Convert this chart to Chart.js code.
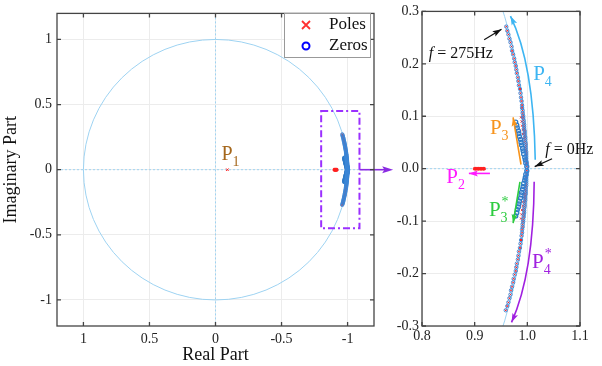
<!DOCTYPE html>
<html>
<head>
<meta charset="utf-8">
<script src="https://cdn.jsdelivr.net/npm/chart.js@4.4.0/dist/chart.umd.min.js"></script>
<style>
html, body { margin: 0; padding: 0; background: #fff; }
#wrap { position: relative; width: 602px; height: 366px; overflow: hidden; }
#left { position: absolute; left: 0; top: 0; z-index: 2; }
#right { position: absolute; left: 395px; top: 0; z-index: 1; }
</style>
</head>
<body>
<div id="wrap">
  <canvas id="right" width="207" height="366"></canvas>
  <canvas id="left" width="400" height="366"></canvas>
</div>
<script>
// values (x = distance along the flipped real axis)
var trackUpX = [0.960, 0.962, 0.964, 0.966, 0.968, 0.970, 0.971, 0.973, 0.975, 0.976, 0.978, 0.979, 0.980, 0.982, 0.983, 0.984, 0.986, 0.987, 0.988, 0.989, 0.990, 0.990, 0.991, 0.991, 0.992, 0.992, 0.993, 0.993, 0.994, 0.994, 0.994, 0.995, 0.995, 0.995, 0.996, 0.996, 0.996, 0.997, 0.997, 0.997, 0.997, 0.998, 0.998, 0.998, 0.998, 0.998, 0.999, 0.999, 0.999];
var trackUpY = [0.271, 0.263, 0.256, 0.248, 0.241, 0.233, 0.225, 0.218, 0.210, 0.203, 0.196, 0.189, 0.182, 0.174, 0.167, 0.159, 0.152, 0.144, 0.136, 0.129, 0.121, 0.116, 0.111, 0.106, 0.101, 0.097, 0.092, 0.088, 0.084, 0.080, 0.076, 0.072, 0.068, 0.064, 0.060, 0.056, 0.052, 0.048, 0.044, 0.040, 0.036, 0.032, 0.028, 0.024, 0.020, 0.016, 0.012, 0.008, 0.004];
var trackLoX = [0.959, 0.962, 0.964, 0.966, 0.968, 0.969, 0.971, 0.973, 0.974, 0.976, 0.978, 0.979, 0.980, 0.982, 0.983, 0.984, 0.986, 0.987, 0.988, 0.989, 0.990, 0.990, 0.991, 0.991, 0.992, 0.992, 0.993, 0.993, 0.994, 0.994, 0.994, 0.995, 0.995, 0.995, 0.996, 0.996, 0.996, 0.997, 0.997, 0.997, 0.997, 0.998, 0.998, 0.998, 0.998, 0.998, 0.999, 0.999, 0.999];
var trackLoY = [-0.270, -0.262, -0.255, -0.247, -0.240, -0.232, -0.225, -0.217, -0.210, -0.202, -0.195, -0.188, -0.181, -0.173, -0.166, -0.158, -0.151, -0.143, -0.136, -0.128, -0.122, -0.116, -0.111, -0.106, -0.101, -0.097, -0.092, -0.088, -0.084, -0.080, -0.076, -0.072, -0.068, -0.064, -0.060, -0.056, -0.052, -0.048, -0.044, -0.040, -0.036, -0.032, -0.028, -0.024, -0.020, -0.016, -0.012, -0.008, -0.004];

var p3ZeroUpX = [0.978, 0.980, 0.981, 0.983, 0.984, 0.985, 0.987, 0.988, 0.989, 0.991, 0.992, 0.993, 0.995, 0.996, 0.997, 0.999];
var p3ZeroUpY = [0.089, 0.083, 0.078, 0.072, 0.067, 0.061, 0.056, 0.050, 0.045, 0.039, 0.034, 0.028, 0.022, 0.017, 0.011, 0.004];
var p3ZeroLoX = [0.978, 0.980, 0.981, 0.983, 0.984, 0.985, 0.987, 0.988, 0.989, 0.991, 0.992, 0.993, 0.995, 0.996, 0.997, 0.999];
var p3ZeroLoY = [-0.090, -0.084, -0.078, -0.073, -0.067, -0.062, -0.056, -0.050, -0.045, -0.039, -0.034, -0.028, -0.022, -0.017, -0.011, -0.004];

var p3PoleUpX = [0.988, 0.989, 0.990, 0.991, 0.992, 0.993, 0.994, 0.995, 0.996, 0.997, 0.998, 0.999];
var p3PoleUpY = [0.098, 0.090, 0.082, 0.074, 0.066, 0.058, 0.050, 0.042, 0.034, 0.026, 0.018, 0.010];
var p3PoleLoX = [0.988, 0.989, 0.990, 0.991, 0.992, 0.993, 0.994, 0.995, 0.996, 0.997, 0.998, 0.999];
var p3PoleLoY = [-0.095, -0.087, -0.079, -0.071, -0.063, -0.055, -0.048, -0.040, -0.032, -0.024, -0.016, -0.009];

var p2PoleX = [0.900, 0.903, 0.906, 0.909, 0.912, 0.915, 0.918];
var p2PoleY = [0, 0, 0, 0, 0, 0, 0];
var p1PoleX = [0.09];
var p1PoleY = [0];

var leftTicks = [-1, -0.5, 0, 0.5, 1];
var rightXTicks = [0.8, 0.9, 1.0, 1.1];
var rightYTicks = [-0.3, -0.2, -0.1, 0.0, 0.1, 0.2, 0.3];

var serif = "'Liberation Serif', 'Times New Roman', serif";
Chart.defaults.font.family = serif;
Chart.defaults.color = '#222';

function pts(xs, ys, flip) {
  return xs.map(function (x, i) { return { x: flip ? -x : x, y: ys[i] }; });
}

var zeroCol = '#3a86d6';
var poleCol = '#ff2020';

function buildSets(flip) {
  var zeros = pts(trackUpX, trackUpY, flip).concat(pts(trackLoX, trackLoY, flip));
  var p3z = pts(p3ZeroUpX, p3ZeroUpY, flip).concat(pts(p3ZeroLoX, p3ZeroLoY, flip));
  var poles = pts(trackUpX, trackUpY, flip).concat(pts(trackLoX, trackLoY, flip));
  var p3p = pts(p3PoleUpX, p3PoleUpY, flip).concat(pts(p3PoleLoX, p3PoleLoY, flip));
  var p2 = pts(p2PoleX, p2PoleY, flip);
  var p1 = pts(p1PoleX, p1PoleY, flip);
  var zs = { pointStyle: 'circle', pointRadius: 1.7, borderColor: zeroCol, backgroundColor: 'rgba(0,0,0,0)', pointBorderWidth: 0.9 };
  var ps = { pointStyle: 'crossRot', pointRadius: 1.4, borderColor: poleCol, backgroundColor: poleCol, pointBorderWidth: 1 };
  return [
    Object.assign({ label: 'Zeros', data: zeros }, zs),
    Object.assign({ label: 'Zeros P3', data: p3z }, zs, { pointRadius: 2, pointBorderWidth: 1.3, borderColor: '#2f7bc8' }),
    Object.assign({ label: 'Poles', data: poles }, ps),
    Object.assign({ label: 'Poles P3', data: p3p }, ps),
    Object.assign({ label: 'Poles P2', data: p2 }, ps, { pointRadius: 1.8, pointBorderWidth: 2 }),
    Object.assign({ label: 'Poles P1', data: p1 }, ps, { pointRadius: 1.8 })
  ];
}

function arrowHead(ctx, x, y, ang, len, wid, color) {
  ctx.save();
  ctx.translate(x, y);
  ctx.rotate(ang);
  ctx.fillStyle = color;
  ctx.beginPath();
  ctx.moveTo(0, 0);
  ctx.lineTo(-len, wid / 2);
  ctx.lineTo(-len * 0.8, 0);
  ctx.lineTo(-len, -wid / 2);
  ctx.closePath();
  ctx.fill();
  ctx.restore();
}

// arrow through scale values: start, optional control, end (head at end)
function valArrow(chart, a, c, b, color, lw) {
  var ctx = chart.ctx, sx = chart.scales.x, sy = chart.scales.y;
  var x0 = sx.getPixelForValue(a[0]), y0 = sy.getPixelForValue(a[1]);
  var x1 = sx.getPixelForValue(b[0]), y1 = sy.getPixelForValue(b[1]);
  ctx.save();
  ctx.strokeStyle = color;
  ctx.lineWidth = lw;
  ctx.beginPath();
  ctx.moveTo(x0, y0);
  var ang;
  if (c) {
    var cx = sx.getPixelForValue(c[0]), cy = sy.getPixelForValue(c[1]);
    ctx.quadraticCurveTo(cx, cy, x1, y1);
    ang = Math.atan2(y1 - cy, x1 - cx);
  } else {
    ctx.lineTo(x1, y1);
    ang = Math.atan2(y1 - y0, x1 - x0);
  }
  ctx.stroke();
  ctx.restore();
  arrowHead(ctx, x1, y1, ang, 9, 6, color);
}

function pLabel(chart, v, main, sub, star, color, size) {
  var ctx = chart.ctx;
  var x = chart.scales.x.getPixelForValue(v[0]), y = chart.scales.y.getPixelForValue(v[1]);
  ctx.save();
  ctx.fillStyle = color;
  ctx.textBaseline = 'alphabetic';
  ctx.textAlign = 'left';
  ctx.font = size + 'px ' + serif;
  ctx.fillText(main, x, y);
  var w = ctx.measureText(main).width;
  ctx.font = Math.round(size * 0.68) + 'px ' + serif;
  ctx.fillText(sub, x + w, y + 6);
  if (star) ctx.fillText('*', x + w + 1, y - 10);
  ctx.restore();
}

function drawFrame(chart) {
  var ctx = chart.ctx, a = chart.chartArea;
  ctx.save();
  ctx.strokeStyle = '#444';
  ctx.lineWidth = 1.3;
  ctx.beginPath();
  chart.scales.x.ticks.forEach(function (t) {
    var p = chart.scales.x.getPixelForValue(t.value);
    ctx.moveTo(p, a.bottom); ctx.lineTo(p, a.bottom - 4);
    ctx.moveTo(p, a.top); ctx.lineTo(p, a.top + 4);
  });
  chart.scales.y.ticks.forEach(function (t) {
    var p = chart.scales.y.getPixelForValue(t.value);
    ctx.moveTo(a.left, p); ctx.lineTo(a.left + 4, p);
    ctx.moveTo(a.right, p); ctx.lineTo(a.right - 4, p);
  });
  ctx.stroke();
  ctx.strokeRect(a.left, a.top, a.right - a.left, a.bottom - a.top);
  ctx.restore();
}

function drawCircleAxes(chart, circleCol) {
  var ctx = chart.ctx, a = chart.chartArea, sx = chart.scales.x, sy = chart.scales.y;
  var cx = sx.getPixelForValue(0), cy = sy.getPixelForValue(0);
  var rx = Math.abs(sx.getPixelForValue(1) - cx), ry = Math.abs(sy.getPixelForValue(1) - cy);
  ctx.save();
  ctx.beginPath();
  ctx.rect(a.left, a.top, a.right - a.left, a.bottom - a.top);
  ctx.clip();
  ctx.strokeStyle = circleCol;
  ctx.lineWidth = 1;
  ctx.beginPath();
  ctx.ellipse(cx, cy, rx, ry, 0, 0, Math.PI * 2);
  ctx.stroke();
  ctx.setLineDash([2, 2]);
  ctx.beginPath();
  ctx.moveTo(a.left, cy); ctx.lineTo(a.right, cy);
  ctx.moveTo(cx, a.top); ctx.lineTo(cx, a.bottom);
  ctx.stroke();
  ctx.restore();
}

var leftPlugin = {
  id: 'leftDeco',
  beforeDatasetsDraw: function (chart) { drawCircleAxes(chart, '#9ed3f2'); },
  afterDraw: function (chart) {
    var ctx = chart.ctx, sx = chart.scales.x, sy = chart.scales.y;
    // zoom box
    var x0 = sx.getPixelForValue(-0.80), x1 = sx.getPixelForValue(-1.09);
    var y0 = sy.getPixelForValue(0.45), y1 = sy.getPixelForValue(-0.45);
    ctx.save();
    ctx.strokeStyle = '#9b30ff';
    ctx.lineWidth = 2;
    ctx.setLineDash([7, 3, 2, 3]);
    ctx.strokeRect(x0, y0, x1 - x0, y1 - y0);
    ctx.restore();
    // link arrow to zoomed panel
    var ym = sy.getPixelForValue(0);
    var xe = sx.getPixelForValue(-1.345);
    ctx.save();
    ctx.strokeStyle = '#8a2be2';
    ctx.lineWidth = 1.6;
    ctx.beginPath();
    ctx.moveTo(x1, ym); ctx.lineTo(xe - 6, ym);
    ctx.stroke();
    ctx.restore();
    arrowHead(ctx, xe, ym, 0, 11, 7, '#8a2be2');
    pLabel(chart, [-0.045, 0.076], 'P', '1', false, '#a5671c', 20);
    drawFrame(chart);
    // legend
    var lx = 284, ly = 13, lw = 86, lh = 44;
    ctx.save();
    ctx.fillStyle = '#fff';
    ctx.fillRect(lx, ly, lw, lh);
    ctx.strokeStyle = '#999';
    ctx.lineWidth = 1;
    ctx.strokeRect(lx + 0.5, ly + 0.5, lw, lh);
    ctx.strokeStyle = '#ff3030';
    ctx.lineWidth = 1.8;
    ctx.beginPath();
    ctx.moveTo(302, 21); ctx.lineTo(310, 29);
    ctx.moveTo(310, 21); ctx.lineTo(302, 29);
    ctx.stroke();
    ctx.strokeStyle = '#0000ff';
    ctx.lineWidth = 2;
    ctx.beginPath();
    ctx.arc(306, 46, 3.5, 0, Math.PI * 2);
    ctx.stroke();
    ctx.fillStyle = '#111';
    ctx.font = '17px ' + serif;
    ctx.textBaseline = 'middle';
    ctx.fillText('Poles', 329, 25);
    ctx.fillText('Zeros', 329, 46);
    ctx.restore();
  }
};

var rightPlugin = {
  id: 'rightDeco',
  beforeDatasetsDraw: function (chart) { drawCircleAxes(chart, '#9ed3f2'); },
  afterDraw: function (chart) {
    var ctx = chart.ctx;
    valArrow(chart, [1.015, 0.017], [1.012, 0.2], [0.968, 0.291], '#3db5f2', 1.6);
    valArrow(chart, [1.013, -0.025], [1.012, -0.2], [0.970, -0.293], '#a020e0', 1.6);
    valArrow(chart, [0.988, 0.008], null, [0.973, 0.098], '#f7941d', 1.6);
    valArrow(chart, [0.986, -0.025], null, [0.973, -0.104], '#2ecc40', 1.6);
    valArrow(chart, [0.929, -0.009], null, [0.889, -0.009], '#ff1aff', 1.6);
    valArrow(chart, [0.918, 0.246], null, [0.951, 0.266], '#111', 1.2);
    valArrow(chart, [1.047, 0.019], null, [1.014, 0.004], '#111', 1.2);
    pLabel(chart, [1.011, 0.169], 'P', '4', false, '#3db5f2', 21);
    pLabel(chart, [0.929, 0.066], 'P', '3', false, '#f7941d', 21);
    pLabel(chart, [0.927, -0.091], 'P', '3', true, '#2ecc40', 21);
    pLabel(chart, [1.009, -0.189], 'P', '4', true, '#a020e0', 21);
    pLabel(chart, [0.846, -0.028], 'P', '2', false, '#ff1aff', 21);
    // frequency notes
    var sx = chart.scales.x, sy = chart.scales.y;
    var notes = [[0.813, 0.212, ' = 275Hz'], [1.034, 0.028, ' = 0Hz']];
    ctx.save();
    ctx.fillStyle = '#111';
    ctx.textBaseline = 'alphabetic';
    notes.forEach(function (n) {
      var x = sx.getPixelForValue(n[0]), y = sy.getPixelForValue(n[1]);
      ctx.font = 'italic 16px ' + serif;
      ctx.fillText('f', x, y);
      var w = ctx.measureText('f').width;
      ctx.font = '16px ' + serif;
      ctx.fillText(n[2], x + w, y);
    });
    ctx.restore();
    drawFrame(chart);
  }
};

var gridCol = '#ececec';
var tickFont = { family: serif, size: 14 };

new Chart(document.getElementById('left'), {
  type: 'scatter',
  data: { datasets: buildSets(true) },
  options: {
    responsive: false,
    animation: false,
    layout: { padding: { left: 0, top: 9, right: 26, bottom: 0 } },
    plugins: { legend: { display: false }, tooltip: { enabled: false } },
    scales: {
      x: {
        type: 'linear', min: -1.2, max: 1.2, reverse: true,
        afterBuildTicks: function (s) { s.ticks = leftTicks.map(function (v) { return { value: v }; }); },
        afterFit: function (s) { s.height = 40; },
        grid: { color: gridCol, drawTicks: false },
        border: { display: false },
        ticks: { font: tickFont, padding: 5, color: '#222', maxRotation: 0, callback: function (v) { return String(v); } },
        title: { display: true, text: 'Real Part', font: { family: serif, size: 18 }, padding: { top: 0, bottom: 0 }, color: '#111' }
      },
      y: {
        type: 'linear', min: -1.2, max: 1.2,
        afterBuildTicks: function (s) { s.ticks = leftTicks.map(function (v) { return { value: v }; }); },
        afterFit: function (s) { s.width = 57; },
        grid: { color: gridCol, drawTicks: false },
        border: { display: false },
        ticks: { font: tickFont, padding: 5, color: '#222', callback: function (v) { return String(v); } },
        title: { display: true, text: 'Imaginary Part', font: { family: serif, size: 18 }, padding: { top: 0, bottom: 2 }, color: '#111' }
      }
    }
  },
  plugins: [leftPlugin]
});

new Chart(document.getElementById('right'), {
  type: 'scatter',
  data: { datasets: buildSets(false) },
  options: {
    responsive: false,
    animation: false,
    layout: { padding: { left: 0, top: 9, right: 22, bottom: 0 } },
    plugins: { legend: { display: false }, tooltip: { enabled: false } },
    scales: {
      x: {
        type: 'linear', min: 0.8, max: 1.1,
        afterBuildTicks: function (s) { s.ticks = rightXTicks.map(function (v) { return { value: v }; }); },
        afterFit: function (s) { s.height = 40; },
        grid: { color: gridCol, drawTicks: false },
        border: { display: false },
        ticks: { font: tickFont, padding: 2, color: '#222', maxRotation: 0, callback: function (v) { return v.toFixed(1); } }
      },
      y: {
        type: 'linear', min: -0.3, max: 0.3,
        afterBuildTicks: function (s) { s.ticks = rightYTicks.map(function (v) { return { value: v }; }); },
        afterFit: function (s) { s.width = 27; },
        grid: { color: gridCol, drawTicks: false },
        border: { display: false },
        ticks: { font: tickFont, padding: 3, color: '#222', callback: function (v) { return v.toFixed(1); } }
      }
    }
  },
  plugins: [rightPlugin]
});
</script>
</body>
</html>
